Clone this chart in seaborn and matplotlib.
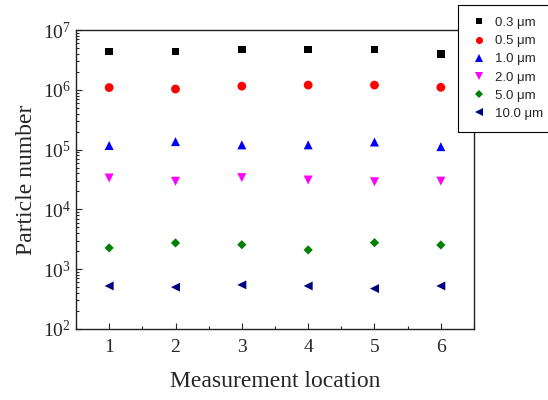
import matplotlib
matplotlib.use("Agg")
from matplotlib import pyplot as plt
from matplotlib.ticker import LogLocator, MultipleLocator, NullFormatter
import seaborn as sns
import pandas as pd
import numpy as np

# Measurement locations
locations = [1, 2, 3, 4, 5, 6]

# particle size channels
sizes = ["0.3 μm", "0.5 μm", "1.0 μm", "2.0 μm", "5.0 μm", "10.0 μm"]

# particle counts per size channel
n_03 = [4.4e6, 4.4e6, 4.7e6, 4.7e6, 4.7e6, 4.0e6]
n_05 = [1.09e6, 1.03e6, 1.15e6, 1.2e6, 1.2e6, 1.1e6]
n_10 = [1.17e5, 1.36e5, 1.2e5, 1.2e5, 1.34e5, 1.12e5]
n_20 = [3.35e4, 2.95e4, 3.4e4, 3.1e4, 2.9e4, 2.97e4]
n_50 = [2.27e3, 2.75e3, 2.57e3, 2.1e3, 2.78e3, 2.54e3]
n_100 = [525, 500, 547, 525, 474, 525]

counts = [n_03, n_05, n_10, n_20, n_50, n_100]

colors = ["black", "red", "blue", "magenta", "green", "navy"]
marks = ["s", "o", "^", "v", "D", "<"]
# marker areas so that every symbol looks about the same size
areas = [30, 40, 42, 42, 22, 42]

df = pd.DataFrame({
    "location": np.tile(locations, len(sizes)),
    "size": np.repeat(sizes, len(locations)),
    "count": np.concatenate(counts),
})

sns.set_style("ticks")
plt.rcParams["font.family"] = ["Liberation Serif", "DejaVu Serif"]
plt.rcParams["mathtext.fontset"] = "custom"
plt.rcParams["mathtext.rm"] = "Liberation Serif"

fig = plt.figure(figsize=(5.48, 4.0), dpi=100)
ax = fig.add_axes([76 / 548, 71 / 400, 398 / 548, 299 / 400])

sns.scatterplot(data=df, x="location", y="count",
                hue="size", style="size", size="size",
                palette=dict(zip(sizes, colors)),
                markers=dict(zip(sizes, marks)),
                sizes=dict(zip(sizes, areas)),
                linewidth=0, ax=ax)

ax.set_yscale("log")
ax.set_ylim(1e2, 1e7)
ax.set_xlim(0.5, 6.5)
ax.xaxis.set_major_locator(MultipleLocator(1))
ax.xaxis.set_minor_locator(MultipleLocator(0.5))
ax.yaxis.set_major_locator(LogLocator(base=10, numticks=10))
ax.yaxis.set_minor_locator(LogLocator(base=10, subs=np.arange(2, 10), numticks=10))
ax.yaxis.set_minor_formatter(NullFormatter())

ax.tick_params(axis="both", which="both", direction="in", top=False, right=False,
               labelsize=14, width=0.8)
ax.tick_params(axis="x", which="major", pad=7)
ax.tick_params(axis="both", which="major", length=4)
ax.tick_params(axis="both", which="minor", length=2.5)
for sp in ax.spines.values():
    sp.set_linewidth(1.0)
    sp.set_color("#222222")

ax.set_xlabel("Measurement location", fontsize=17, labelpad=11)
ax.set_ylabel("Particle number", fontsize=17, labelpad=4)

handles, labels = ax.get_legend_handles_labels()
ax.legend_.remove()
leg = fig.legend(handles, labels, loc="upper left",
                 bbox_to_anchor=(458 / 548, 1 - 5 / 400),
                 bbox_transform=fig.transFigure, borderaxespad=0,
                 prop={"family": "Liberation Sans", "size": 9.5},
                 frameon=True, fancybox=False, edgecolor="black",
                 framealpha=1, borderpad=0.9, handletextpad=0.5,
                 handlelength=1.4, labelspacing=0.45, markerscale=0.8)
leg.get_frame().set_linewidth(0.8)

fig.savefig("out.png", dpi=100)
